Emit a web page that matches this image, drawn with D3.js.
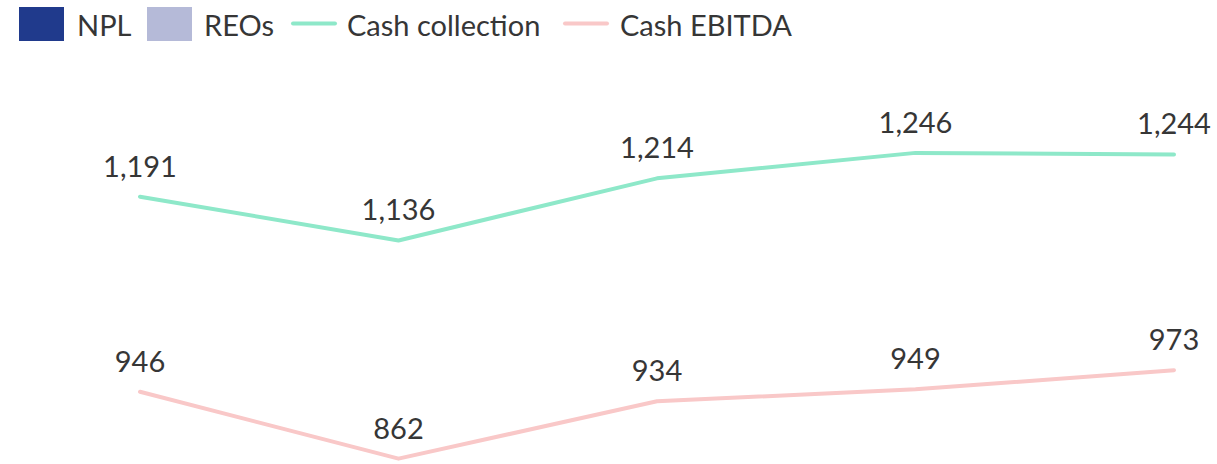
<!DOCTYPE html>
<html>
<head>
<meta charset="utf-8">
<script src="https://cdn.jsdelivr.net/npm/d3@7"></script>
<style>
  html, body { margin: 0; padding: 0; background: #ffffff; }
  svg { display: block; }
  text { font-family: Lato, "Open Sans", sans-serif; fill: #363636; }
</style>
</head>
<body>
<svg id="chart" width="1217" height="464"></svg>
<script>
// ---- data ----
const categories = ["P1", "P2", "P3", "P4", "P5"];
const cashCollection = [1191, 1136, 1214, 1246, 1244];
const cashEbitda = [946, 862, 934, 949, 973];
const legendLabels = ["NPL", "REOs", "Cash collection", "Cash EBITDA"];

// ---- styles ----
const colors = {
  npl: "#203a8c",
  reos: "#b5bad8",
  collection: "#8ee8c9",
  ebitda: "#f9c8c8"
};

const svg = d3.select("#chart");
const W = 1217, H = 464;

const x = d3.scalePoint().domain(categories).range([140, 1174]);
const y = d3.scaleLinear().domain([0, 1438]).range([1145, 0]);

const line = d3.line()
  .x((d, i) => x(categories[i]))
  .y(d => y(d));

const series = [
  { name: "Cash collection", values: cashCollection, color: colors.collection },
  { name: "Cash EBITDA", values: cashEbitda, color: colors.ebitda }
];

const fmt = d3.format(",");

series.forEach(s => {
  svg.append("path")
    .datum(s.values)
    .attr("d", line)
    .attr("fill", "none")
    .attr("stroke", s.color)
    .attr("stroke-width", 4)
    .attr("stroke-linecap", "round")
    .attr("stroke-linejoin", "round");

  svg.selectAll(null)
    .data(s.values)
    .enter()
    .append("text")
    .attr("x", (d, i) => x(categories[i]))
    .attr("y", d => y(d) - 20)
    .attr("text-anchor", "middle")
    .style("font-size", "29px")
    .text(d => fmt(d));
});

// ---- legend ----
const legendItems = [
  { label: legendLabels[0], type: "rect", color: colors.npl, sx: 19, tx: 77 },
  { label: legendLabels[1], type: "rect", color: colors.reos, sx: 147, tx: 204 },
  { label: legendLabels[2], type: "line", color: colors.collection, sx: 292, tx: 347 },
  { label: legendLabels[3], type: "line", color: colors.ebitda, sx: 564, tx: 620 }
];

const lg = svg.append("g");
legendItems.forEach(it => {
  if (it.type === "rect") {
    lg.append("rect")
      .attr("x", it.sx).attr("y", 7)
      .attr("width", 45).attr("height", 34)
      .attr("fill", it.color);
  } else {
    lg.append("line")
      .attr("x1", it.sx + 1).attr("x2", it.sx + 43)
      .attr("y1", 23.5).attr("y2", 23.5)
      .attr("stroke", it.color)
      .attr("stroke-width", 4)
      .attr("stroke-linecap", "round");
  }
  lg.append("text")
    .attr("x", it.tx).attr("y", 36)
    .style("font-size", "29px")
    .text(it.label);
});
</script>
</body>
</html>
